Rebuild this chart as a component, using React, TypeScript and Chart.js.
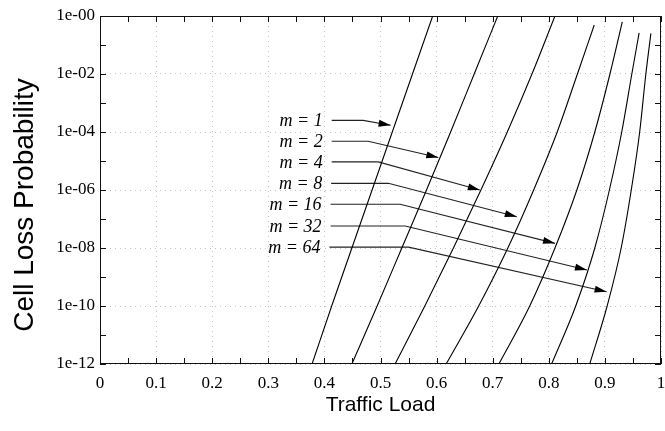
import React, { useEffect, useRef } from 'react';
import { Chart, registerables } from 'chart.js';

Chart.register(...registerables);

// ---- Data ----
const seriesNames = ['m = 1', 'm = 2', 'm = 4', 'm = 8', 'm = 16', 'm = 32', 'm = 64'];
// log10(cell loss probability) levels where loads were read
const levelExponents = [-12, -10, -8, -6, -4, -2];
const loadsM1 = [0.378, 0.413, 0.449, 0.485, 0.521, 0.557];
const loadsM2 = [0.449, 0.494, 0.538, 0.582, 0.625, 0.667];
const loadsM4 = [0.526, 0.579, 0.63, 0.679, 0.726, 0.77];
const loadsM8 = [0.617, 0.675, 0.727, 0.773, 0.815, 0.851];
const loadsM16 = [0.711, 0.766, 0.811, 0.85, 0.882, 0.909];
const loadsM32 = [0.805, 0.848, 0.882, 0.908, 0.93, 0.948];
const loadsM64 = [0.873, 0.904, 0.929, 0.947, 0.962, 0.973];
// last point of each curve
const topLoads = [0.593, 0.709, 0.811, 0.881, 0.931, 0.961, 0.982];
const topExponents = [0, 0, 0, -0.31, -0.2, -0.58, -0.6];

// annotation arrows (load, log10 probability)
const arrowStartLoad = [0.413, 0.413, 0.413, 0.412, 0.411, 0.411, 0.409];
const arrowBendLoad = [0.469, 0.478, 0.496, 0.514, 0.535, 0.544, 0.55];
const arrowTipLoad = [0.518, 0.603, 0.677, 0.743, 0.811, 0.868, 0.903];
const arrowLevelExp = [-3.6, -4.32, -5.03, -5.77, -6.49, -7.24, -7.97];
const arrowTipExp = [-3.77, -4.88, -6.0, -6.92, -7.84, -8.76, -9.51];

const xTickValues = [0, 0.1, 0.2, 0.3, 0.4, 0.5, 0.6, 0.7, 0.8, 0.9, 1];
const xTickLabels = ['0', '0.1', '0.2', '0.3', '0.4', '0.5', '0.6', '0.7', '0.8', '0.9', '1'];
const yTickExponents = [0, -1, -2, -3, -4, -5, -6, -7, -8, -9, -10, -11, -12];
const yTickLabels = ['1e-00', '', '1e-02', '', '1e-04', '', '1e-06', '', '1e-08', '', '1e-10', '', '1e-12'];
const xMinorTicks = [0, 0.05, 0.1, 0.15, 0.2, 0.25, 0.3, 0.35, 0.4, 0.45, 0.5, 0.55, 0.6, 0.65, 0.7, 0.75, 0.8, 0.85, 0.9, 0.95, 1];

const xTitle = 'Traffic Load';
const yTitle = 'Cell Loss Probability';

const curveLoads = [loadsM1, loadsM2, loadsM4, loadsM8, loadsM16, loadsM32, loadsM64];

const SERIF = "'Liberation Serif', 'Times New Roman', serif";
const SANS = "'Liberation Sans', Arial, sans-serif";

const decorPlugin = {
  id: 'decor',
  afterDatasetsDraw(chart: any) {
    const ctx = chart.ctx;
    const { left, right, top, bottom } = chart.chartArea;
    const xs = chart.scales.x;
    const ys = chart.scales.y;
    ctx.save();
    // frame
    ctx.strokeStyle = '#111';
    ctx.lineWidth = 1;
    ctx.strokeRect(left + 0.5, top + 0.5, right - left - 1, bottom - top - 1);
    // inward ticks
    ctx.beginPath();
    xMinorTicks.forEach((v) => {
      const px = Math.round(xs.getPixelForValue(v)) + 0.5;
      ctx.moveTo(px, bottom);
      ctx.lineTo(px, bottom - 6);
      ctx.moveTo(px, top);
      ctx.lineTo(px, top + 6);
    });
    yTickExponents.forEach((e) => {
      const py = Math.round(ys.getPixelForValue(Math.pow(10, e))) + 0.5;
      ctx.moveTo(left, py);
      ctx.lineTo(left + 6, py);
      ctx.moveTo(right, py);
      ctx.lineTo(right - 6, py);
    });
    ctx.stroke();

    // arrow heads and labels
    seriesNames.forEach((name, i) => {
      const meta = chart.getDatasetMeta(curveLoads.length + i);
      const p0 = meta.data[0];
      const p1 = meta.data[1];
      const p2 = meta.data[2];
      const ang = Math.atan2(p2.y - p1.y, p2.x - p1.x);
      const len = 12;
      const hw = 3.5;
      ctx.fillStyle = '#000';
      ctx.beginPath();
      ctx.moveTo(p2.x, p2.y);
      ctx.lineTo(p2.x - len * Math.cos(ang) + hw * Math.sin(ang), p2.y - len * Math.sin(ang) - hw * Math.cos(ang));
      ctx.lineTo(p2.x - len * Math.cos(ang) - hw * Math.sin(ang), p2.y - len * Math.sin(ang) + hw * Math.cos(ang));
      ctx.closePath();
      ctx.fill();

      ctx.font = `italic 18px ${SERIF}`;
      ctx.textAlign = 'right';
      ctx.textBaseline = 'middle';
      ctx.fillText(name, p0.x - 9, p0.y + 1);
    });

    // y axis title
    ctx.translate(25, 205);
    ctx.rotate(-Math.PI / 2);
    ctx.font = `28px ${SANS}`;
    ctx.textAlign = 'center';
    ctx.textBaseline = 'middle';
    ctx.fillStyle = '#000';
    ctx.fillText(yTitle, 0, 0);
    ctx.restore();
  },
};

export default function App() {
  const ref = useRef<HTMLCanvasElement>(null);
  useEffect(() => {
    const canvas = ref.current;
    if (!canvas) return;
    const curveSets = curveLoads.map((loads, i) => ({
      label: seriesNames[i],
      data: [
        ...loads.map((x, k) => ({ x, y: Math.pow(10, levelExponents[k]) })),
        { x: topLoads[i], y: Math.pow(10, topExponents[i]) },
      ],
      borderColor: '#000',
      borderWidth: 1.1,
      pointRadius: 0,
      cubicInterpolationMode: 'monotone',
      fill: false,
    }));
    const arrowSets = seriesNames.map((name, i) => ({
      label: name + ' arrow',
      data: [
        { x: arrowStartLoad[i], y: Math.pow(10, arrowLevelExp[i]) },
        { x: arrowBendLoad[i], y: Math.pow(10, arrowLevelExp[i]) },
        { x: arrowTipLoad[i], y: Math.pow(10, arrowTipExp[i]) },
      ],
      borderColor: '#222',
      borderWidth: 1.1,
      pointRadius: 0,
      tension: 0,
      fill: false,
    }));
    const chart = new Chart(canvas, {
      type: 'line',
      data: { datasets: [...curveSets, ...arrowSets] as any },
      options: {
        responsive: false,
        animation: false,
        devicePixelRatio: 1,
        layout: { padding: { left: 0, right: 4, top: 16, bottom: 0 } },
        plugins: { legend: { display: false }, tooltip: { enabled: false } },
        scales: {
          x: {
            type: 'linear',
            min: 0,
            max: 1,
            afterBuildTicks: (scale: any) => {
              scale.ticks = xTickValues.map((v) => ({ value: v }));
            },
            afterFit: (scale: any) => {
              scale.height = 67;
              scale.paddingLeft = 0;
              scale.paddingRight = 0;
            },
            ticks: {
              autoSkip: false,
              maxRotation: 0,
              padding: 9,
              color: '#000',
              font: { family: SERIF, size: 17 },
              callback: (v: any, i: number) => xTickLabels[i],
            },
            grid: {
              color: '#c4c4c4',
              lineWidth: 1,
              drawTicks: false,
            },
            border: { display: false, dash: [1, 4] },
            title: {
              display: true,
              text: xTitle,
              color: '#000',
              font: { family: SANS, size: 21 },
              padding: { top: 0, bottom: 13 },
            },
          },
          y: {
            type: 'logarithmic',
            min: 1e-12,
            max: 1,
            afterBuildTicks: (scale: any) => {
              scale.ticks = yTickExponents.map((e) => ({ value: Math.pow(10, e) }));
            },
            afterFit: (scale: any) => {
              scale.width = 100;
              scale.paddingTop = 0;
              scale.paddingBottom = 0;
            },
            ticks: {
              autoSkip: false,
              padding: 5,
              color: '#000',
              font: { family: SERIF, size: 17 },
              callback: (v: any, i: number) => yTickLabels[i],
            },
            grid: {
              color: (c: any) => (c.index % 2 === 0 ? '#c4c4c4' : 'rgba(0,0,0,0)'),
              lineWidth: 1,
              drawTicks: false,
            },
            border: { display: false, dash: [1, 4] },
          },
        },
      },
      plugins: [decorPlugin],
    } as any);
    return () => chart.destroy();
  }, []);
  return (
    <div style={{ position: 'absolute', left: 0, top: 0, width: 665, height: 431, background: '#fff' }}>
      <canvas ref={ref} width={665} height={431} style={{ display: 'block' }} />
    </div>
  );
}
